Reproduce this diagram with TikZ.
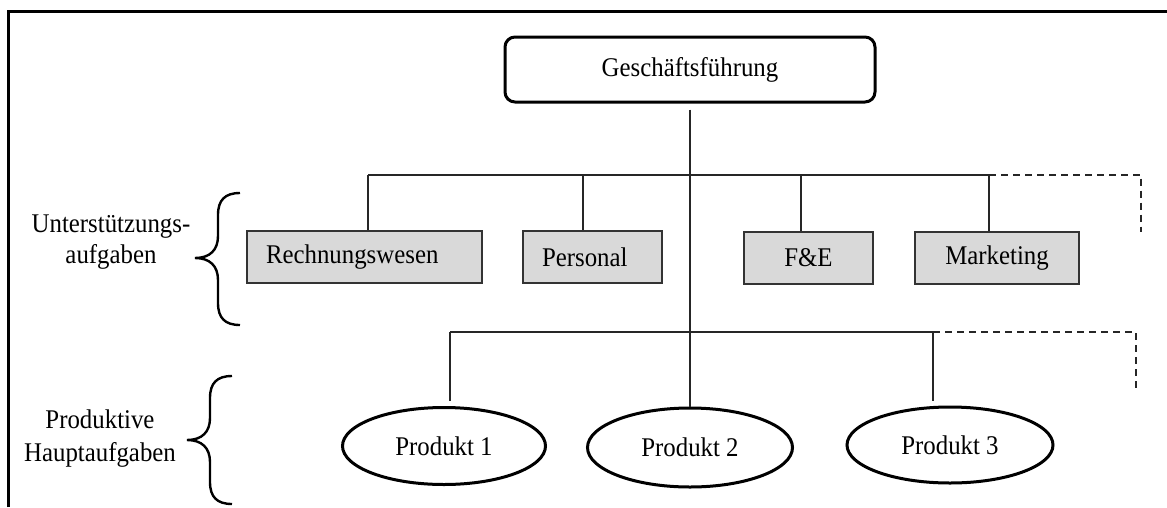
\documentclass[tikz,border=0pt]{standalone}
\usepackage{fontspec}
\setmainfont[FakeStretch=0.92]{Liberation Serif}
\usetikzlibrary{shapes.geometric}
\begin{document}
\begin{tikzpicture}[x=1pt,y=-1pt,
  every node/.style={font=\fontsize{27}{31}\selectfont, text=black},
  line/.style={line width=2pt, draw=black!85},
  dline/.style={line, dash pattern=on 7pt off 5pt},
  bracestroke/.style={line width=2.4pt, draw=black},
  headbox/.style={draw=black, line width=3pt, rounded corners=10pt, fill=white,
    minimum width=370pt, minimum height=65pt, inner sep=0pt},
  unitbox/.style={draw=black!80, line width=2pt, fill=black!15,
    minimum height=52pt, inner sep=0pt},
  prodell/.style={draw=black, line width=3pt, ellipse, fill=white, inner sep=0pt},
  sidelabel/.style={align=center, inner sep=0pt}]
\useasboundingbox (0,0) rectangle (1167,507);

% frame
\draw[line width=3pt] (8,507) -- (8,11) -- (1167,11);

% management
\node[headbox] (gf) at (690,69.5) {Geschäftsführung};

% support units
\node[unitbox, minimum width=235pt, text width=197pt, inner xsep=19pt, align=left] (rw) at (364.5,257) {Rechnungswesen};
\node[unitbox, minimum width=139pt, text width=101pt, inner xsep=19pt, align=left] (ps) at (592.5,257) {Personal};
\node[unitbox, minimum width=129pt] (fe) at (808.5,257.5) {F\&E};
\node[unitbox, minimum width=164pt] (mk) at (997,258) {Marketing};

% products
\node[prodell, minimum width=203pt, minimum height=77pt] (p1) at (444,446) {Produkt 1};
\node[prodell, minimum width=205pt, minimum height=79pt] (p2) at (690,447.5) {Produkt 2};
\node[prodell, minimum width=206pt, minimum height=76pt] (p3) at (950,445) {Produkt 3};

% bus taps
\coordinate (rwtap) at (368,174.5);
\coordinate (pstap) at (583,174.5);
\coordinate (fetap) at (801,174.5);
\coordinate (mktap) at (989,174.5);
\coordinate (moresup) at (1141,232);
\coordinate (p1tap) at (450,332);
\coordinate (p3tap) at (933,332);
\coordinate (moreprod) at (1136,388);

% main trunk
\draw[line, shorten <=6pt] (gf.south) -- (p2.north);

% support bus
\draw[line] (rwtap) -- (mktap);
\draw[line] (rwtap) -- (rwtap |- rw.north);
\draw[line] (pstap) -- (pstap |- ps.north);
\draw[line] (fetap) -- (fetap |- fe.north);
\draw[line] (mktap) -- (mktap |- mk.north);
\draw[dline] (mktap) -| (moresup);

% product bus
\draw[line] (p1tap) -- (p3tap);
\draw[line, shorten >=5pt] (p1tap) -- (p1tap |- p1.north);
\draw[line, shorten >=5pt] (p3tap) -- (p3tap |- p3.north);
\draw[dline] (p3tap) -| (moreprod);

% side labels
\node[sidelabel] (lsup) at (111,242.5) {Unterstützungs-\\aufgaben};
\node[sidelabel] (lprod) at (100,438.5) {Produktive\\[2pt]Hauptaufgaben};

% braces
\draw[bracestroke] (240,193) .. controls (225,193) and (218,200) .. (218,215)
  -- (218,236) .. controls (218,250) and (210,258) .. (195,258)
  .. controls (210,258) and (218,266) .. (218,280)
  -- (218,303) .. controls (218,318) and (225,325) .. (240,325);
\draw[bracestroke] (232,376) .. controls (217,376) and (210,383) .. (210,398)
  -- (210,418) .. controls (210,432) and (202,440) .. (187,440)
  .. controls (202,440) and (210,448) .. (210,462)
  -- (210,482) .. controls (210,497) and (217,504) .. (232,504);
\end{tikzpicture}
\end{document}
